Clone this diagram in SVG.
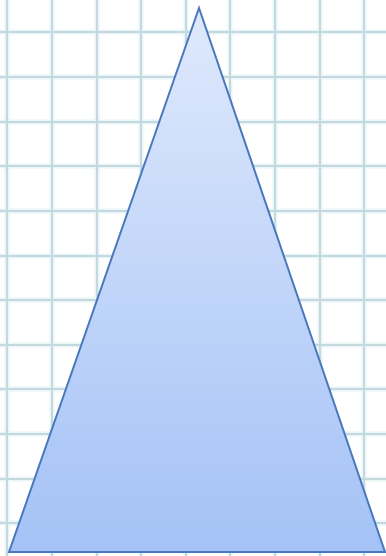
<svg xmlns="http://www.w3.org/2000/svg" width="386" height="556" viewBox="0 0 386 556">
<style>
.g line{stroke:#c4d9df;stroke-width:2}
.g2 line{stroke:#eaf5f7;stroke-width:5}
.tri{stroke:#4a78bd;stroke-width:2;stroke-linejoin:miter}
</style>
<defs>
<linearGradient id="fill" x1="0" y1="0" x2="0" y2="1">
<stop offset="0" stop-color="#dfe9fc"/>
<stop offset="1" stop-color="#a4c2f6"/>
</linearGradient>
</defs>
<rect width="386" height="556" fill="#ffffff"/>
<g class="g2">
<line x1="7" y1="0" x2="7" y2="556"/><line x1="52" y1="0" x2="52" y2="556"/><line x1="97" y1="0" x2="97" y2="556"/><line x1="141" y1="0" x2="141" y2="556"/><line x1="186" y1="0" x2="186" y2="556"/><line x1="230" y1="0" x2="230" y2="556"/><line x1="275" y1="0" x2="275" y2="556"/><line x1="320" y1="0" x2="320" y2="556"/><line x1="364" y1="0" x2="364" y2="556"/>
<line x1="0" y1="32" x2="386" y2="32"/><line x1="0" y1="77" x2="386" y2="77"/><line x1="0" y1="122" x2="386" y2="122"/><line x1="0" y1="166" x2="386" y2="166"/><line x1="0" y1="211" x2="386" y2="211"/><line x1="0" y1="256" x2="386" y2="256"/><line x1="0" y1="300" x2="386" y2="300"/><line x1="0" y1="345" x2="386" y2="345"/><line x1="0" y1="389" x2="386" y2="389"/><line x1="0" y1="434" x2="386" y2="434"/><line x1="0" y1="479" x2="386" y2="479"/><line x1="0" y1="523" x2="386" y2="523"/>
</g>
<g class="g">
<line x1="7" y1="0" x2="7" y2="556"/><line x1="52" y1="0" x2="52" y2="556"/><line x1="97" y1="0" x2="97" y2="556"/><line x1="141" y1="0" x2="141" y2="556"/><line x1="186" y1="0" x2="186" y2="556"/><line x1="230" y1="0" x2="230" y2="556"/><line x1="275" y1="0" x2="275" y2="556"/><line x1="320" y1="0" x2="320" y2="556"/><line x1="364" y1="0" x2="364" y2="556"/>
<line x1="0" y1="32" x2="386" y2="32"/><line x1="0" y1="77" x2="386" y2="77"/><line x1="0" y1="122" x2="386" y2="122"/><line x1="0" y1="166" x2="386" y2="166"/><line x1="0" y1="211" x2="386" y2="211"/><line x1="0" y1="256" x2="386" y2="256"/><line x1="0" y1="300" x2="386" y2="300"/><line x1="0" y1="345" x2="386" y2="345"/><line x1="0" y1="389" x2="386" y2="389"/><line x1="0" y1="434" x2="386" y2="434"/><line x1="0" y1="479" x2="386" y2="479"/><line x1="0" y1="523" x2="386" y2="523"/>
</g>
<g id="triangle">
<polygon class="tri" points="199,8 9,552 385,552" fill="url(#fill)"/>
</g>
</svg>
